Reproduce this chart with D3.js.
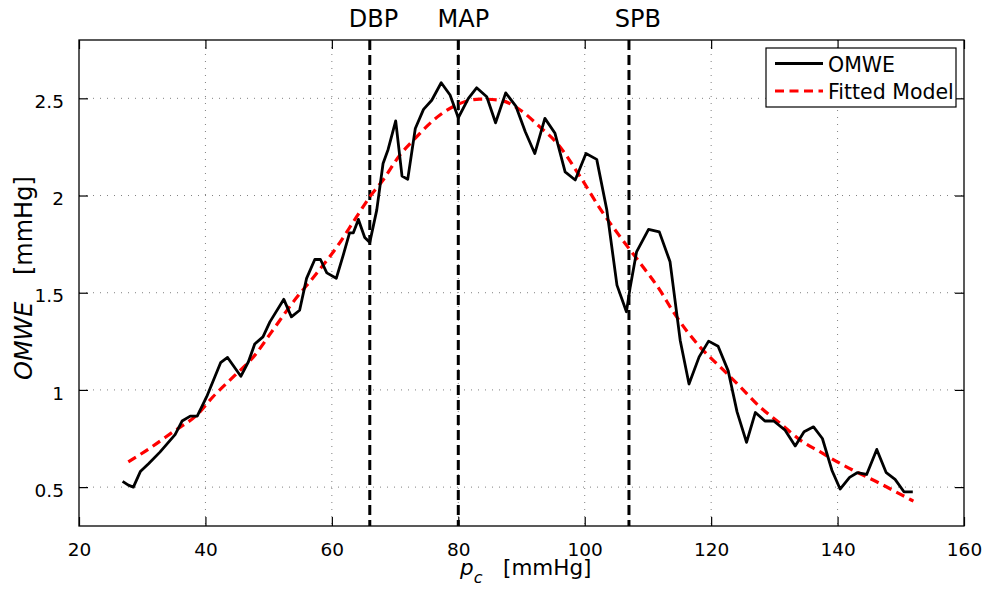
<!DOCTYPE html>
<html>
<head>
<meta charset="utf-8">
<script src="https://cdn.jsdelivr.net/npm/d3@7"></script>
<style>
  html, body { margin: 0; padding: 0; background: #fff; }
  svg { display: block; font-family: 'DejaVu Sans', sans-serif; }
</style>
</head>
<body>
<div id="svg-container"></div>
<script>
// OMWE (measured) — cuff pressure p_c [mmHg] and envelope value [mmHg]
const omweP = [
  26.9, 27.8, 28.6, 29.7, 31.0, 32.8, 35.2, 36.3, 37.6, 38.7,
  40.2, 42.4, 43.5, 45.6, 46.8, 47.8, 49.1, 50.2, 52.4, 53.6,
  54.9, 56.0, 57.3, 58.2, 59.2, 60.7, 61.8, 62.8, 63.4, 64.2,
  65.2, 66.0, 67.1, 68.1, 68.9, 70.1, 71.1, 72.0, 73.2, 74.5,
  75.8, 77.3, 78.7, 80.0, 81.6, 82.9, 84.5, 85.9, 87.5, 89.1,
  90.6, 92.1, 93.7, 95.3, 96.9, 98.5, 100.2, 101.9, 103.5, 105.1,
  106.6, 107.2, 108.2, 110.1, 111.8, 113.5, 115.1, 116.5, 118.1, 119.6,
  121.1, 122.7, 124.1, 125.6, 127.0, 128.5, 129.9, 131.7, 133.3, 134.7,
  136.2, 137.6, 139.1, 140.4, 141.9, 143.1, 144.6, 146.2, 147.7, 149.1,
  150.5, 151.9,
]
const omweV = [
  0.53, 0.51, 0.50, 0.58, 0.62, 0.68, 0.77, 0.84, 0.865, 0.865,
  0.965, 1.14, 1.167, 1.07, 1.145, 1.236, 1.273, 1.35, 1.466, 1.376,
  1.41, 1.574, 1.671, 1.671, 1.602, 1.574, 1.693, 1.808, 1.808, 1.877,
  1.784, 1.759, 1.925, 2.165, 2.237, 2.384, 2.10, 2.083, 2.345, 2.443,
  2.49, 2.58, 2.517, 2.40, 2.50, 2.554, 2.508, 2.374, 2.528, 2.46,
  2.328, 2.216, 2.397, 2.32, 2.122, 2.08, 2.216, 2.186, 1.925, 1.539,
  1.402, 1.53, 1.71, 1.826, 1.813, 1.659, 1.256, 1.03, 1.17, 1.251,
  1.225, 1.098, 0.887, 0.73, 0.884, 0.84, 0.84, 0.793, 0.712, 0.785,
  0.81, 0.75, 0.587, 0.49, 0.55, 0.574, 0.565, 0.694, 0.574, 0.54,
  0.476, 0.476,
]

// Fitted model
const fitP = [
  27.8, 31.2, 34.9, 38.6, 41.2, 44.4, 47.6, 50.5, 53.9, 57.6,
  60.8, 63.9, 66.0, 68.1, 70.8, 72.9, 77.1, 80.3, 83.4, 86.6,
  89.8, 92.9, 95.6, 99.3, 102.4, 105.6, 108.8, 111.9, 114.0, 118.2,
  121.4, 124.6, 127.7, 130.9, 134.1, 137.2, 140.4, 143.5, 146.7, 149.9,
  152.0,
]
const fitV = [
  0.63, 0.70, 0.785, 0.87, 0.965, 1.067, 1.17, 1.30, 1.453, 1.60,
  1.736, 1.89, 1.993, 2.08, 2.21, 2.285, 2.414, 2.474, 2.496, 2.49,
  2.44, 2.353, 2.27, 2.096, 1.934, 1.788, 1.651, 1.513, 1.402, 1.222,
  1.119, 1.016, 0.913, 0.828, 0.742, 0.682, 0.622, 0.57, 0.519, 0.464,
  0.428,
]

// vertical markers
const markerNames = ['DBP', 'MAP', 'SPB']
const markerP = [66, 80, 107]
const markerLabelP = [66.6, 80.8, 108.4]

const xTicks = [20, 40, 60, 80, 100, 120, 140, 160]
const yTicks = [0.5, 1, 1.5, 2, 2.5]
const xDomain = [20, 160]
const yDomain = [0.3, 2.8]

const width = 985
const height = 591
const marginTop = 40
const marginRight = 21
const marginBottom = 65
const marginLeft = 79

const innerWidth = width - marginLeft - marginRight
const innerHeight = height - marginTop - marginBottom

const svg = d3
  .select('#svg-container')
  .append('svg')
  .attr('width', width)
  .attr('height', height)
  .attr('viewBox', `0 0 ${width} ${height}`)

const chartCore = svg
  .append('g')
  .attr('transform', `translate(${marginLeft}, ${marginTop})`)

const xScale = d3.scaleLinear().domain(xDomain).range([0, innerWidth])
const yScale = d3.scaleLinear().domain(yDomain).range([innerHeight, 0])

// dotted grid
chartCore
  .append('g')
  .selectAll('line')
  .data(xTicks.slice(1, -1))
  .join('line')
  .attr('x1', d => xScale(d))
  .attr('x2', d => xScale(d))
  .attr('y1', 0)
  .attr('y2', innerHeight)
  .attr('stroke', '#808080')
  .attr('stroke-width', 1)
  .attr('stroke-dasharray', '1,6')

chartCore
  .append('g')
  .selectAll('line')
  .data(yTicks)
  .join('line')
  .attr('x1', 0)
  .attr('x2', innerWidth)
  .attr('y1', d => yScale(d))
  .attr('y2', d => yScale(d))
  .attr('stroke', '#808080')
  .attr('stroke-width', 1)
  .attr('stroke-dasharray', '1,6')

// axes, ticks pointing inwards on all four sides
const tickLen = 9
const axisBottom = d3.axisBottom(xScale).tickValues(xTicks).tickSizeInner(-tickLen).tickSizeOuter(0).tickPadding(17)
const axisTop = d3.axisTop(xScale).tickValues(xTicks).tickSizeInner(-tickLen).tickSizeOuter(0)
const axisLeft = d3.axisLeft(yScale).tickValues(yTicks).tickSizeInner(-tickLen).tickSizeOuter(0).tickPadding(15).tickFormat(d3.format('~g'))
const axisRight = d3.axisRight(yScale).tickValues(yTicks).tickSizeInner(-tickLen).tickSizeOuter(0)

const styleAxis = g => {
  g.attr('font-size', 18.5).attr('font-family', "'DejaVu Sans', sans-serif")
  g.select('.domain').remove()
  g.selectAll('.tick line').attr('stroke', '#000').attr('stroke-width', 1.2)
  g.selectAll('.tick text').attr('fill', '#000')
}
const noLabels = g => g.selectAll('.tick text').remove()

chartCore.append('g').call(axisBottom).attr('transform', `translate(0, ${innerHeight})`).call(styleAxis)
chartCore.append('g').call(axisTop).call(styleAxis).call(noLabels)
chartCore.append('g').call(axisLeft).call(styleAxis)
  .selectAll('.tick text').attr('dy', '0.5em')
chartCore.append('g').call(axisRight).attr('transform', `translate(${innerWidth}, 0)`).call(styleAxis).call(noLabels)

// vertical pressure markers
chartCore
  .append('g')
  .selectAll('line')
  .data(markerP)
  .join('line')
  .attr('x1', d => xScale(d))
  .attr('x2', d => xScale(d))
  .attr('y1', 0)
  .attr('y2', innerHeight)
  .attr('stroke', '#000')
  .attr('stroke-width', 3)
  .attr('stroke-dasharray', '10,5')

svg
  .append('g')
  .selectAll('text')
  .data(markerNames)
  .join('text')
  .attr('x', (d, i) => marginLeft + xScale(markerLabelP[i]))
  .attr('y', 27)
  .attr('text-anchor', 'middle')
  .attr('font-size', 24)
  .text(d => d)

// curves
const omweData = omweP.map((p, i) => ({ p, v: omweV[i] }))
const fitData = fitP.map((p, i) => ({ p, v: fitV[i] }))

const line = d3
  .line()
  .x(d => xScale(d.p))
  .y(d => yScale(d.v))

chartCore
  .append('path')
  .datum(fitData)
  .attr('fill', 'none')
  .attr('stroke', '#ff0000')
  .attr('stroke-width', 3.2)
  .attr('stroke-dasharray', '9,5.5')
  .attr('d', line.curve(d3.curveMonotoneX))

chartCore
  .append('path')
  .datum(omweData)
  .attr('fill', 'none')
  .attr('stroke', '#000')
  .attr('stroke-width', 2.8)
  .attr('stroke-linejoin', 'round')
  .attr('d', line.curve(d3.curveLinear))

// box
chartCore
  .append('rect')
  .attr('width', innerWidth)
  .attr('height', innerHeight)
  .attr('fill', 'none')
  .attr('stroke', '#000')
  .attr('stroke-width', 1.3)

// legend
const legend = svg.append('g').attr('transform', 'translate(766, 48)')
legend
  .append('rect')
  .attr('width', 190)
  .attr('height', 59)
  .attr('fill', '#fff')
  .attr('stroke', '#000')
  .attr('stroke-width', 1.2)

const legendItems = [
  { label: 'OMWE', stroke: '#000', dash: null, width: 2.8 },
  { label: 'Fitted Model', stroke: '#ff0000', dash: '9,5.5', width: 3.2 },
]
legendItems.forEach((item, i) => {
  const y = 15.5 + i * 27.5
  legend
    .append('line')
    .attr('x1', 9)
    .attr('x2', 57)
    .attr('y1', y)
    .attr('y2', y)
    .attr('stroke', item.stroke)
    .attr('stroke-width', item.width)
    .attr('stroke-dasharray', item.dash)
  legend
    .append('text')
    .attr('x', 62)
    .attr('y', y + 8)
    .attr('font-size', 20.5)
    .text(item.label)
})

// axis labels
const xLabel = svg
  .append('text')
  .attr('x', 460)
  .attr('y', 575)
  .attr('font-size', 21.5)
xLabel.append('tspan').attr('font-style', 'italic').text('p')
xLabel.append('tspan').attr('dy', 8).attr('font-size', 16).attr('font-style', 'italic').text('c')
xLabel.append('tspan').attr('x', 503).attr('dy', -8).text('[mmHg]')

const yLabel = svg
  .append('text')
  .attr('transform', 'translate(32, 380) rotate(-90)')
  .attr('font-size', 24)
yLabel.append('tspan').attr('font-style', 'italic').text('OMWE')
yLabel.append('tspan').attr('x', 105).text('[mmHg]')
</script>
</body>
</html>
